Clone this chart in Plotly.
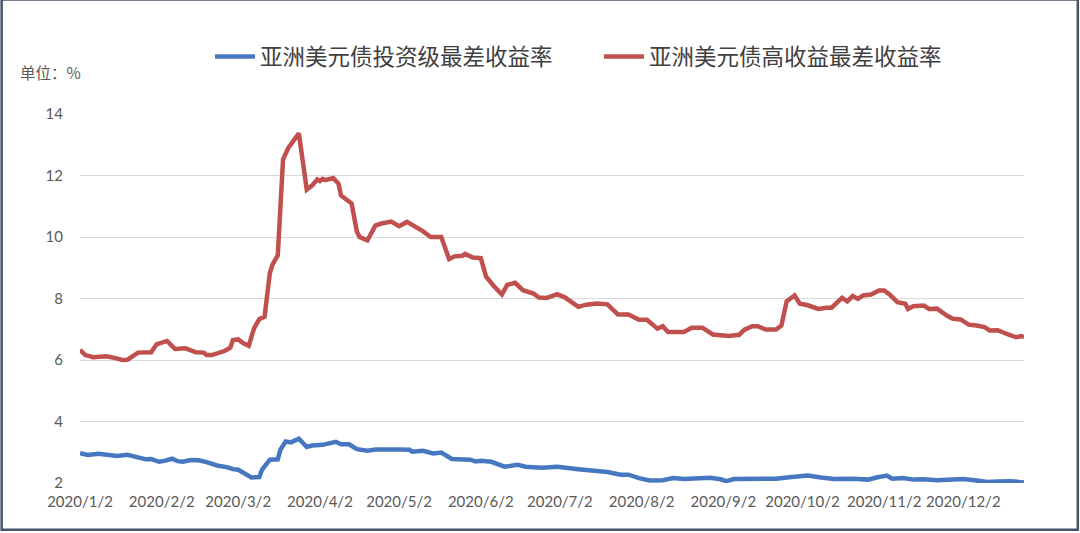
import plotly.graph_objects as go

# 亚洲美元债 最差收益率 (%)
ig_dates = ["2020-01-02", "2020-01-05", "2020-01-09", "2020-01-11", "2020-01-14", "2020-01-16",
            "2020-01-20", "2020-01-24", "2020-01-27", "2020-01-29", "2020-02-01", "2020-02-03",
            "2020-02-06", "2020-02-08", "2020-02-10", "2020-02-13", "2020-02-16", "2020-02-19",
            "2020-02-23", "2020-02-27", "2020-02-29", "2020-03-02", "2020-03-05", "2020-03-07",
            "2020-03-10", "2020-03-11", "2020-03-14", "2020-03-17", "2020-03-18", "2020-03-20",
            "2020-03-22", "2020-03-25", "2020-03-28", "2020-03-30", "2020-04-03", "2020-04-06",
            "2020-04-08", "2020-04-10", "2020-04-13", "2020-04-16", "2020-04-20", "2020-04-23",
            "2020-04-27", "2020-04-29", "2020-05-02", "2020-05-06", "2020-05-07", "2020-05-11",
            "2020-05-15", "2020-05-18", "2020-05-22", "2020-05-29", "2020-05-31", "2020-06-02",
            "2020-06-06", "2020-06-08", "2020-06-11", "2020-06-16", "2020-06-19", "2020-06-25",
            "2020-07-01", "2020-07-09", "2020-07-13", "2020-07-20", "2020-07-25", "2020-07-28",
            "2020-08-01", "2020-08-05", "2020-08-10", "2020-08-14", "2020-08-18", "2020-08-26",
            "2020-08-28", "2020-09-01", "2020-09-03", "2020-09-06", "2020-09-12", "2020-09-19",
            "2020-09-22", "2020-09-27", "2020-10-04", "2020-10-09", "2020-10-14", "2020-10-21",
            "2020-10-27", "2020-10-30", "2020-11-03", "2020-11-05", "2020-11-09", "2020-11-13",
            "2020-11-17", "2020-11-22", "2020-11-27", "2020-12-02", "2020-12-07", "2020-12-11",
            "2020-12-15", "2020-12-20", "2020-12-25"]
ig_yield = [2.97, 2.91, 2.95, 2.92, 2.91, 2.88,
            2.92, 2.82, 2.77, 2.78, 2.69, 2.72,
            2.79, 2.71, 2.69, 2.75, 2.74, 2.68,
            2.57, 2.51, 2.45, 2.43, 2.30, 2.18,
            2.19, 2.43, 2.76, 2.77, 3.08, 3.35,
            3.32, 3.44, 3.17, 3.22, 3.24, 3.28,
            3.34, 3.26, 3.26, 3.10, 3.05, 3.09,
            3.11, 3.09, 3.09, 3.08, 3.02, 3.05,
            2.96, 2.99, 2.78, 2.76, 2.70, 2.72,
            2.69, 2.63, 2.53, 2.59, 2.53, 2.50,
            2.53, 2.45, 2.43, 2.36, 2.27, 2.27,
            2.16, 2.08, 2.09, 2.16, 2.13, 2.14,
            2.17, 2.12, 2.06, 2.13, 2.13, 2.15,
            2.14, 2.19, 2.24, 2.18, 2.13, 2.14,
            2.11, 2.18, 2.24, 2.14, 2.16, 2.11,
            2.12, 2.09, 2.10, 2.13, 2.08, 2.03,
            2.05, 2.06, 2.02]

hy_dates = ["2020-01-02", "2020-01-04", "2020-01-07", "2020-01-10", "2020-01-12", "2020-01-15",
            "2020-01-18", "2020-01-20", "2020-01-22", "2020-01-24", "2020-01-29", "2020-01-31",
            "2020-02-04", "2020-02-07", "2020-02-11", "2020-02-15", "2020-02-18", "2020-02-19",
            "2020-02-21", "2020-02-26", "2020-02-28", "2020-02-29", "2020-03-02", "2020-03-04",
            "2020-03-06", "2020-03-08", "2020-03-10", "2020-03-12", "2020-03-14", "2020-03-15",
            "2020-03-17", "2020-03-18", "2020-03-19", "2020-03-21", "2020-03-23", "2020-03-25",
            "2020-03-28", "2020-03-30", "2020-04-01", "2020-04-02", "2020-04-03", "2020-04-04",
            "2020-04-07", "2020-04-09", "2020-04-10", "2020-04-12", "2020-04-14", "2020-04-16",
            "2020-04-17", "2020-04-20", "2020-04-23", "2020-04-25", "2020-04-29", "2020-05-02",
            "2020-05-05", "2020-05-11", "2020-05-14", "2020-05-18", "2020-05-21", "2020-05-23",
            "2020-05-26", "2020-05-27", "2020-05-30", "2020-06-02", "2020-06-04", "2020-06-07",
            "2020-06-10", "2020-06-12", "2020-06-15", "2020-06-18", "2020-06-22", "2020-06-24",
            "2020-06-27", "2020-07-01", "2020-07-04", "2020-07-09", "2020-07-12", "2020-07-16",
            "2020-07-20", "2020-07-24", "2020-07-28", "2020-08-01", "2020-08-04", "2020-08-08",
            "2020-08-10", "2020-08-12", "2020-08-18", "2020-08-21", "2020-08-25", "2020-08-29",
            "2020-09-01", "2020-09-04", "2020-09-08", "2020-09-10", "2020-09-13", "2020-09-15",
            "2020-09-18", "2020-09-22", "2020-09-24", "2020-09-26", "2020-09-29", "2020-10-01",
            "2020-10-04", "2020-10-08", "2020-10-11", "2020-10-13", "2020-10-17", "2020-10-19",
            "2020-10-21", "2020-10-23", "2020-10-25", "2020-10-28", "2020-10-31", "2020-11-02",
            "2020-11-04", "2020-11-07", "2020-11-10", "2020-11-11", "2020-11-13", "2020-11-17",
            "2020-11-19", "2020-11-22", "2020-11-26", "2020-11-28", "2020-12-01", "2020-12-04",
            "2020-12-07", "2020-12-10", "2020-12-12", "2020-12-15", "2020-12-19", "2020-12-22",
            "2020-12-24", "2020-12-25"]
hy_yield = [6.33, 6.16, 6.09, 6.13, 6.12, 6.07,
            6.00, 6.01, 6.11, 6.24, 6.25, 6.51,
            6.62, 6.36, 6.38, 6.25, 6.24, 6.16,
            6.16, 6.30, 6.40, 6.65, 6.67, 6.54,
            6.46, 7.03, 7.33, 7.41, 8.83, 9.10,
            9.40, 10.89, 12.52, 12.90, 13.12, 13.37,
            11.54, 11.67, 11.87, 11.82, 11.89, 11.85,
            11.92, 11.74, 11.35, 11.24, 11.09, 10.18,
            10.00, 9.89, 10.37, 10.43, 10.50, 10.35,
            10.49, 10.19, 10.00, 10.00, 9.28, 9.37,
            9.39, 9.45, 9.33, 9.31, 8.71, 8.40,
            8.13, 8.44, 8.51, 8.27, 8.16, 8.03,
            8.02, 8.14, 8.03, 7.73, 7.80, 7.84,
            7.81, 7.48, 7.48, 7.31, 7.31, 7.02,
            7.10, 6.91, 6.91, 7.05, 7.05, 6.83,
            6.81, 6.78, 6.82, 6.99, 7.10, 7.10,
            6.99, 6.99, 7.12, 7.91, 8.10, 7.83,
            7.78, 7.66, 7.70, 7.70, 8.02, 7.91,
            8.08, 7.99, 8.10, 8.13, 8.26, 8.26,
            8.13, 7.88, 7.83, 7.66, 7.75, 7.77,
            7.66, 7.67, 7.43, 7.34, 7.32, 7.15,
            7.12, 7.07, 6.96, 6.97, 6.83, 6.74,
            6.78, 6.74]

tick_vals = ["2020-%02d-02" % m for m in range(1, 13)]
tick_text = ["2020/%d/2" % m for m in range(1, 13)]

fig = go.Figure()
fig.add_trace(go.Scatter(x=ig_dates, y=ig_yield, mode="lines", name="亚洲美元债投资级最差收益率",
                         line=dict(color="#4777C1", width=4.5)))
fig.add_trace(go.Scatter(x=hy_dates, y=hy_yield, mode="lines", name="亚洲美元债高收益最差收益率",
                         line=dict(color="#C0504D", width=4.5)))

fig.update_layout(
    width=1080, height=533,
    margin=dict(l=80, r=56, t=114, b=50),
    paper_bgcolor="white", plot_bgcolor="white",
    font=dict(family="Lato, Noto Sans CJK SC", size=15, color="#595959"),
    showlegend=True,
    legend=dict(orientation="h", x=0.1377, xanchor="left", y=1.155, yanchor="middle",
                font=dict(family="Noto Sans CJK SC", size=22.5, color="#404040"),
                itemwidth=40, entrywidth=334, traceorder="normal"),
    annotations=[dict(text="单位：%", x=-0.066, y=1.114, xref="paper", yref="paper",
                      xanchor="left", yanchor="middle", showarrow=False,
                      font=dict(family="Noto Sans CJK SC", size=15.5, color="#595959"))],
    shapes=[dict(type="rect", xref="paper", yref="paper", x0=-0.083, x1=1.057, y0=-0.127, y1=1.31,
                 line=dict(color="#44546A", width=2.5), layer="below")],
)
fig.update_xaxes(type="date", range=["2020-01-02", "2020-12-25"], tickvals=tick_vals, ticktext=tick_text,
                 showgrid=False, showline=False, ticks="", ticklabelstandoff=8, tickfont=dict(size=15))
fig.update_yaxes(range=[2, 14], dtick=2, showgrid=True, gridcolor="#D9D9D9", gridwidth=1.3,
                 zeroline=False, showline=False, ticks="", ticklabelstandoff=16,
                 tickfont=dict(size=15))

# the page's default body margin would push the chart off by 8px
fig.write_html("out.html", config={"displayModeBar": False},
               post_script="document.body.style.margin = '0';")
